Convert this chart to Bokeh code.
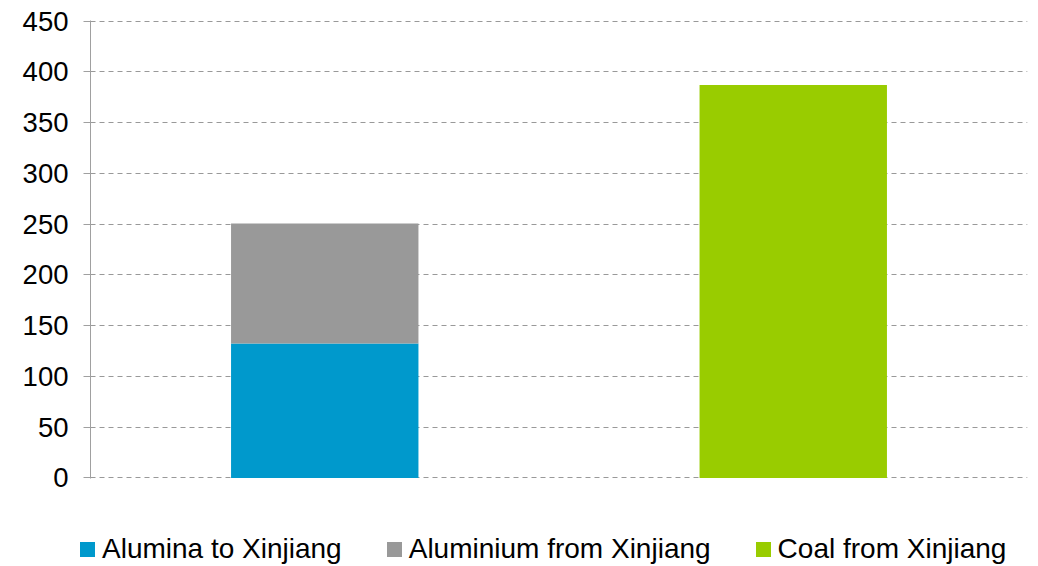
from bokeh.plotting import figure
from bokeh.layouts import column
from bokeh.models import FixedTicker, Range1d, FactorRange, Div
from bokeh.embed import file_html
from bokeh.resources import INLINE

categories = ["Alumina / Aluminium", "Coal"]
alumina_to_xinjiang = [132.5, 0]
aluminium_from_xinjiang = [118, 0]
coal_from_xinjiang = [0, 387]
series_names = ["Alumina to Xinjiang", "Aluminium from Xinjiang", "Coal from Xinjiang"]
colors = ["#0099CC", "#999999", "#99CC00"]
y_ticks = [0, 50, 100, 150, 200, 250, 300, 350, 400, 450]

FONT = "Liberation Sans"

p = figure(x_range=FactorRange(*categories), y_range=Range1d(-0.6, 450.6),
           width=1038, height=492, output_backend="svg", toolbar_location=None,
           min_border_left=90, min_border_right=11, min_border_top=20, min_border_bottom=14)
p.outline_line_color = None
p.background_fill_color = "white"

data = dict(cat=categories, a=alumina_to_xinjiang, b=aluminium_from_xinjiang, c=coal_from_xinjiang)
renderers = p.vbar_stack(["a", "b", "c"], x="cat", width=0.4, color=colors, line_color=None,
                         source=data)

p.xaxis.visible = False
p.xgrid.visible = False

p.yaxis.ticker = FixedTicker(ticks=y_ticks)
p.yaxis.axis_line_color = "#A0A0A0"
p.yaxis.major_tick_line_color = "#A0A0A0"
p.yaxis.major_tick_out = 7
p.yaxis.major_tick_in = 0
p.yaxis.minor_tick_line_color = None
p.yaxis.major_label_standoff = 15
p.yaxis.major_label_text_font = FONT
p.yaxis.major_label_text_font_size = "27.5px"
p.yaxis.major_label_text_color = "black"

p.ygrid.grid_line_color = "#999999"
p.ygrid.grid_line_dash = "5 4"
p.ygrid.grid_line_width = 1

# legend strip below the chart, built from the series names and colours
items_html = "".join(
    f'<span style="display:inline-flex;align-items:center;margin-right:45px">'
    f'<span style="display:inline-block;width:15px;height:15px;background:{c};margin-right:7px"></span>'
    f'{n}</span>'
    for n, c in zip(series_names, colors)
)
legend_html = (
    f'<div style="box-sizing:border-box;padding-left:80px;padding-top:57px;height:57px;'
    f'display:flex;align-items:center;'
    f"font-family:'{FONT}';font-size:28px;line-height:30px;color:black;white-space:nowrap\">"
    f'{items_html}</div>'
)
legend_div = Div(text=legend_html, width=1038, height=74, margin=0)

layout = column(p, legend_div, spacing=0)
open("out.html", "w").write(file_html(layout, INLINE))
